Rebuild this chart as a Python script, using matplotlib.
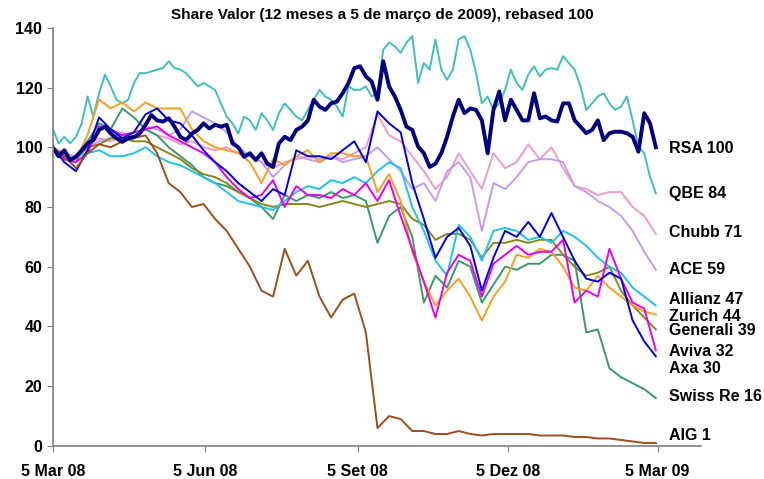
import matplotlib
matplotlib.use('Agg')
import matplotlib.pyplot as plt
import pandas as pd

# readings, 5 Mar 08 .. 5 Mar 09, rebased 100
dates = pd.date_range('2008-03-05', periods=53, freq='7D')      # weekly
dates_half = pd.date_range('2008-03-05', periods=105, freq='84h')  # twice a week

rsa = [100, 97, 99, 95.7, 96.8, 99, 101.3, 102.4, 105.8, 106.9, 104.6, 103, 101.8, 103, 103.5,
       104.6, 107.5, 110.8, 109, 108.6, 109.7, 106.9, 103.5, 102.4, 104.6, 105.8, 108, 106.3,
       107.5, 106.9, 107.5, 101.3, 100, 96.8, 98, 95.7, 98, 94.5, 93.4, 101.3, 103.5, 102.4,
       105.8, 106.9, 109, 115.9, 113.6, 112.5, 114.7, 115.3, 118.1, 121.5, 126.5, 127.1, 123.7,
       122, 115.9, 128.8, 120.4, 117, 112.5, 106.9, 105.8, 100.2, 98, 93.4, 94.5, 98, 103.5,
       110.3, 115.9, 111.4, 113, 112.5, 109, 98, 112.5, 118.7, 109, 115.9, 112.5, 109, 109,
       118.1, 109.7, 110.3, 109, 108.6, 114.7, 114.7, 109, 106.9, 104.7, 105.8, 109, 102.4,
       104.7, 105.2, 105.2, 104.7, 103.5, 98.5, 111.4, 108, 100]
qbe = [106.3, 101.3, 103.5, 101.3, 103.5, 108, 117, 110.3, 118.1, 124.3, 120.4, 115.9, 114.7,
       115.9, 121.5, 124.8, 124.8, 125.4, 126, 126.5, 128.8, 126.5, 126, 124.8, 122.6, 120.4,
       121.5, 120.4, 119.2, 114.7, 110.3, 108, 104.6, 110.3, 109, 105.8, 111.4, 109, 105.8,
       111.4, 114.7, 112.5, 110.3, 109, 112.5, 115.9, 119.2, 117, 115.9, 113.6, 110.3, 120.4,
       119.2, 119.2, 120.4, 117, 118.1, 132.7, 135, 133.8, 131.6, 135, 137.2, 121.5, 128.2,
       126, 136.1, 126, 122.6, 126, 136.1, 137.2, 132.7, 124.8, 114.7, 117, 112.5, 114.7,
       119.2, 126, 121.5, 119.2, 124.3, 127.1, 123.7, 126, 126.5, 126, 130.5, 128.2, 126,
       120.4, 112.5, 114.7, 117, 118.1, 114.7, 112.5, 113.6, 117, 109, 100.2, 98, 90.1, 84.5]
chubb = [100, 98, 97, 101, 103, 102, 104, 103, 106, 104, 103, 101, 102, 100, 99, 100, 98, 97,
         95, 93, 95, 96, 97, 96, 97, 96, 98, 100, 111, 104, 102, 97, 92, 86, 90, 98,
         92, 86, 98, 93, 95, 101, 96, 100, 93, 87, 86, 84, 85, 85, 80, 77, 71]
ace = [100, 97, 96, 100, 102, 103, 105, 103, 107, 106, 104, 106, 112, 110, 108, 105, 100, 97,
       95, 90, 94, 97, 96, 95, 97, 95, 96, 97, 100, 96, 92, 86, 88, 82, 92, 95,
       90, 72, 88, 86, 90, 95, 96, 96, 95, 87, 85, 82, 80, 77, 72, 65, 59]
allianz = [100, 96, 97, 98, 99, 97, 97, 98, 100, 97, 95, 94, 92, 90, 88, 85, 82, 81,
           80, 79, 82, 85, 87, 86, 89, 88, 90, 88, 92, 95, 93, 80, 72, 62, 57, 74,
           70, 62, 72, 73, 72, 69, 70, 68, 72, 70, 67, 63, 60, 58, 53, 50, 47]
zurich = [100, 97, 96, 104, 116, 113, 115, 112, 115, 113, 113, 113, 106, 102, 100, 99, 98, 95,
          88, 96, 94, 97, 99, 95, 98, 98, 97, 97, 85, 91, 82, 65, 55, 47, 52, 56,
          50, 42, 50, 55, 64, 63, 66, 65, 60, 53, 52, 57, 53, 50, 47, 45, 44]
generali = [100, 97, 96, 100, 101, 103, 103, 102, 102, 100, 98, 96, 93, 91, 90, 88, 85, 83,
            81, 80, 81, 81, 81, 80, 81, 82, 81, 80, 81, 82, 81, 76, 74, 69, 71, 71,
            69, 63, 68, 68, 69, 68, 69, 69, 64, 60, 57, 58, 60, 52, 47, 43, 39]
axa = [100, 95, 92, 99, 110, 106, 103, 105, 111, 113, 109, 108, 104, 99, 95, 92, 88, 85,
       82, 86, 84, 99, 97, 97, 96, 99, 102, 95, 112, 108, 105, 88, 76, 63, 70, 73,
       67, 52, 63, 72, 70, 75, 70, 78, 70, 62, 56, 55, 58, 56, 42, 35, 30]
aviva = [100, 96, 95, 98, 107, 106, 104, 105, 106, 107, 104, 102, 100, 98, 95, 90, 86, 83,
         84, 89, 80, 87, 84, 84, 83, 86, 84, 88, 82, 89, 77, 66, 55, 43, 58, 64,
         62, 50, 61, 64, 67, 64, 65, 65, 69, 48, 52, 50, 66, 56, 48, 46, 32]
swissre = [100, 96, 95, 102, 108, 106, 113, 110, 106, 104, 100, 97, 94, 90, 88, 87, 85, 83,
           80, 76, 84, 82, 84, 83, 85, 83, 84, 82, 68, 77, 80, 70, 48, 57, 53, 62,
           60, 48, 54, 60, 59, 61, 61, 64, 64, 62, 38, 39, 26, 23, 21, 19, 16]
aig = [100, 97, 93, 98, 101, 100, 102, 103, 104, 98, 88, 85, 80, 81, 76, 72, 66, 60,
       52, 50, 66, 57, 62, 50, 43, 49, 51, 38, 6, 10, 9, 5, 5, 4, 4, 5,
       4, 3.5, 4, 4, 4, 4, 3.5, 3.5, 3.5, 3, 3, 2.5, 2.5, 2, 1.5, 1, 1]

labels = ['RSA 100', 'QBE 84', 'Chubb 71', 'ACE 59', 'Allianz 47', 'Zurich 44',
          'Generali 39', 'Aviva 32', 'Axa 30', 'Swiss Re 16', 'AIG 1']
label_y = [99.5, 84.5, 71.5, 59, 49, 43.5, 38.5, 31.5, 26, 16.5, 3.5]
tick_dates = ['2008-03-05', '2008-06-05', '2008-09-05', '2008-12-05', '2009-03-05']
tick_labels = ['5 Mar 08', '5 Jun 08', '5 Set 08', '5 Dez 08', '5 Mar 09']

plt.rcParams['font.family'] = ['Liberation Sans', 'DejaVu Sans']

fig = plt.figure(figsize=(7.64, 4.79), dpi=100)
ax = fig.add_axes([0.069, 0.069, 0.848, 0.873])

# thin lines first, RSA on top
ax.plot(dates_half, qbe, color='#40BFBF', lw=1.4)
ax.plot(dates, chubb, color='#F29AC8', lw=1.4)
ax.plot(dates, ace, color='#C19CF0', lw=1.4)
ax.plot(dates, swissre, color='#3A9A6A', lw=1.4)
ax.plot(dates, generali, color='#88881A', lw=1.4)
ax.plot(dates, allianz, color='#1EC3EE', lw=1.4)
ax.plot(dates, zurich, color='#F5A023', lw=1.4)
ax.plot(dates, aviva, color='#EC00EC', lw=1.4)
ax.plot(dates, axa, color='#0000E0', lw=1.4)
ax.plot(dates, aig, color='#A04E1A', lw=1.4)
ax.plot(dates_half, rsa, color='#000080', lw=2.8)

for lab, yv in zip(labels, label_y):
    ax.text(pd.Timestamp('2009-03-12'), yv, lab, fontsize=11.5, fontweight='bold',
            va='center', ha='left', clip_on=False)

ax.set_ylim(0, 140)
ax.set_yticks(range(0, 141, 20))
ax.set_xlim(pd.Timestamp('2008-03-05'), pd.Timestamp('2009-03-31'))
ax.set_xticks([pd.Timestamp(d) for d in tick_dates])
ax.set_xticklabels(tick_labels)

for side in ['top', 'right']:
    ax.spines[side].set_visible(False)
for side in ['left', 'bottom']:
    ax.spines[side].set_color('#808080')
    ax.spines[side].set_linewidth(1.2)
ax.tick_params(axis='both', colors='#808080', labelcolor='black', labelsize=11.5, length=4)
ax.tick_params(axis='x', pad=9)
for t in ax.get_xticklabels() + ax.get_yticklabels():
    t.set_fontweight('bold')

fig.text(0.5, 0.968, 'Share Valor (12 meses a 5 de março de 2009), rebased 100',
         ha='center', va='center', fontsize=11, fontweight='bold')

fig.savefig('out.png', dpi=100)
